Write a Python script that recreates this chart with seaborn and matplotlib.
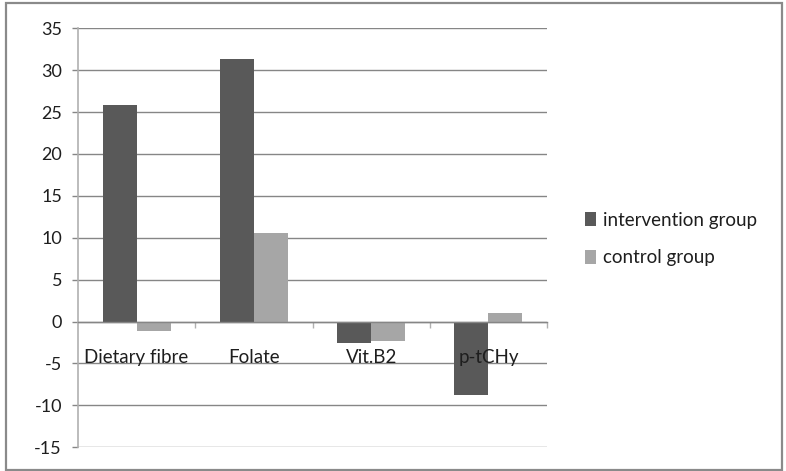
import matplotlib
matplotlib.use("Agg")
import matplotlib.pyplot as plt
import matplotlib.patches as mpatches
import pandas as pd
import seaborn as sns

categories = ["Dietary fibre", "Folate", "Vit.B2", "p-tCHy"]
intervention = [25.9, 31.3, -2.6, -8.8]
control = [-1.1, 10.6, -2.3, 1.0]
series_names = ["intervention group", "control group"]
y_ticks = [-15, -10, -5, 0, 5, 10, 15, 20, 25, 30, 35]

df = pd.DataFrame({
    "category": categories * 2,
    "value": intervention + control,
    "group": [series_names[0]] * 4 + [series_names[1]] * 4,
})

sns.set_theme(style="white")
plt.rcParams["font.family"] = ["Lato", "DejaVu Sans"]

fig = plt.figure(figsize=(7.86, 4.71), dpi=100)
ax = fig.add_axes([0.0992, 0.0503, 0.5968, 0.8897])

palette = {series_names[0]: "#595959", series_names[1]: "#a6a6a6"}
sns.barplot(data=df, x="category", y="value", hue="group", order=categories,
            hue_order=series_names, palette=palette, width=0.58, ax=ax,
            saturation=1, edgecolor="none", linewidth=0, legend=True)

ax.set_xlim(-0.5, 3.5)
ax.set_ylim(-15, 35)
ax.set_yticks(y_ticks)
ax.set_yticklabels([str(t) for t in y_ticks])
ax.set_xlabel("")
ax.set_ylabel("")

grid_color = "#868686"
ax.yaxis.grid(True, color=grid_color, linewidth=1.0)
ax.set_axisbelow(True)
for side in ["top", "right"]:
    ax.spines[side].set_visible(False)
ax.spines["left"].set_color("#b0b0b0")
ax.spines["left"].set_linewidth(1.2)
ax.spines["bottom"].set_position(("data", 0))
ax.spines["bottom"].set_color(grid_color)
ax.spines["bottom"].set_linewidth(1.0)

text_color = "#1e1e1e"
ax.tick_params(axis="y", which="major", left=True, length=4.5, width=1.0,
               color=grid_color, pad=7, labelsize=13, labelcolor=text_color)
ax.tick_params(axis="x", which="major", bottom=False, labelbottom=False)
ax.set_xticks([0.5, 1.5, 2.5, 3.5], minor=True)
ax.tick_params(axis="x", which="minor", bottom=True, length=4, width=1.0,
               color="#b0b0b0", direction="out")

# category names sit a fixed distance below the zero line, drawn over the bars
for i, name in enumerate(categories):
    ax.annotate(name, xy=(i, 0), xytext=(0, -26), textcoords="offset points",
                ha="center", va="center", fontsize=13.5, color=text_color,
                zorder=10, annotation_clip=False)

handles, labels = ax.get_legend_handles_labels()
ax.legend(handles, labels, loc="center left", bbox_to_anchor=(1.045, 0.497),
          frameon=False, fontsize=13.5, handlelength=0.6, handleheight=0.75,
          handletextpad=0.35, labelspacing=1.1, labelcolor=text_color)

frame = mpatches.Rectangle((0.007, 0.003), 0.988, 0.99, transform=fig.transFigure,
                           fill=False, edgecolor="#8a8a8a", linewidth=1.6)
fig.patches.append(frame)

fig.savefig("out.png", dpi=100, facecolor="white")
